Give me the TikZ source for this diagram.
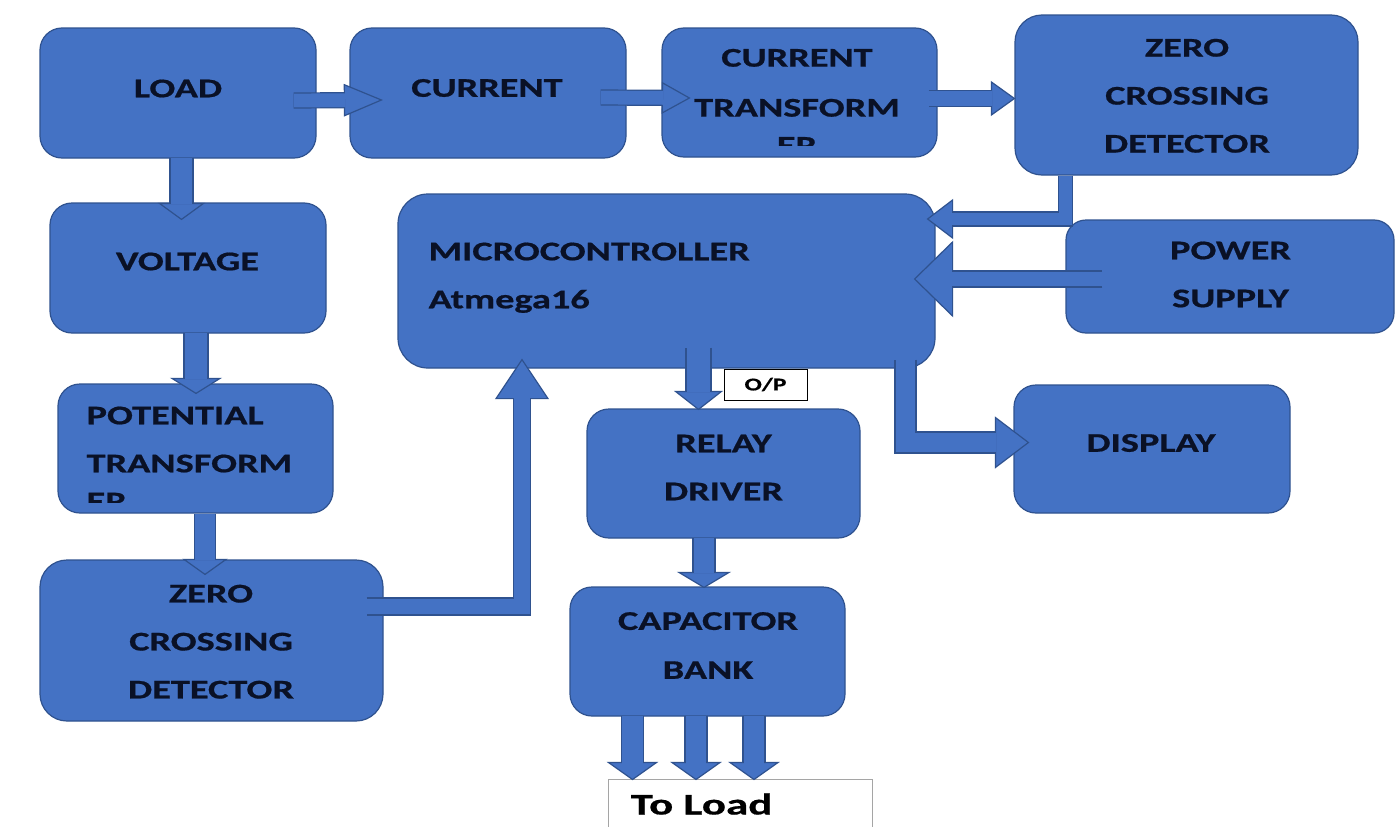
\documentclass[tikz,border=0pt]{standalone}
\usepackage{fontspec}
\usetikzlibrary{calc}
\newfontfamily\boxfont[FakeStretch=1.42, FakeBold=0.7]{Carlito}
\newfontfamily\loadfont[FakeStretch=1.5, FakeBold=0.6]{Carlito}
\definecolor{boxblue}{RGB}{68,114,196}
\definecolor{boxedge}{RGB}{47,82,143}
\definecolor{txtnavy}{RGB}{10,17,38}
\definecolor{graybox}{RGB}{165,165,165}
\tikzset{
 blk/.style={rectangle, rounded corners=22pt, fill=boxblue, draw=boxedge, line width=1.2pt, inner sep=0pt},
 lbl/.style={inner sep=0pt, align=center, text=txtnavy, font=\boxfont\bfseries\fontsize{27}{48}\selectfont},
 lbll/.style={lbl, align=left},
 arrline/.style={draw=boxedge, line join=miter, line cap=butt},
 arrbody/.style={draw=boxblue, line join=miter, line cap=butt},
 arrhead/.style={fill=boxblue, draw=boxedge, line width=1.2pt, line join=miter},
}
% straight block arrow: start, tip, shaft width, head half width, head length
\newcommand\sarr[5]{%
  \coordinate (hb) at ($#2!#5!#1$);
  \draw[arrline, line width={#3+1.2pt}] #1 -- (hb);
  \filldraw[arrhead] ($(hb)!#4!90:#2$) -- #2 -- ($(hb)!#4!-90:#2$) -- cycle;
  \draw[arrbody, line width={#3-1.2pt}, shorten <=0.6pt, shorten >=-1pt] #1 -- (hb);
}
% elbow block arrow: start, corner, tip, shaft width, head half width, head length
\newcommand\larr[6]{%
  \coordinate (hb) at ($#3!#6!#2$);
  \draw[arrline, line width={#4+1.2pt}] #1 -- #2 -- (hb);
  \filldraw[arrhead] ($(hb)!#5!90:#3$) -- #3 -- ($(hb)!#5!-90:#3$) -- cycle;
  \draw[arrbody, line width={#4-1.2pt}, shorten <=0.6pt, shorten >=-1pt] #1 -- #2 -- (hb);
}
\begin{document}
\begin{tikzpicture}[x=1pt, y=-1pt]
\useasboundingbox (0,0) rectangle (1400,827);
\fill[white] (0,0) rectangle (1400,827);

% boxes
\node[blk, minimum width=276pt, minimum height=130pt] (load) at (178,93) {};
\node[blk, minimum width=276pt, minimum height=130pt] (current) at (488,93) {};
\node[blk, minimum width=275pt, minimum height=129pt] (ct) at (799.5,92.5) {};
\node[blk, rounded corners=27pt, minimum width=343pt, minimum height=160pt] (zcdt) at (1186.5,95) {};
\node[blk, minimum width=276pt, minimum height=130pt] (voltage) at (188,268) {};
\node[blk, rounded corners=30pt, minimum width=537pt, minimum height=174pt] (micro) at (666.5,281) {};
\node[blk, rounded corners=20pt, minimum width=328pt, minimum height=113pt] (power) at (1230,276.5) {};
\node[blk, minimum width=275pt, minimum height=129pt] (pot) at (195.5,448.5) {};
\node[blk, rounded corners=27pt, minimum width=343pt, minimum height=161pt] (zcdl) at (211.5,640.5) {};
\node[blk, minimum width=273pt, minimum height=129pt] (relay) at (723.5,473.5) {};
\node[blk, minimum width=276pt, minimum height=128pt] (display) at (1152,449) {};
\node[blk, minimum width=275pt, minimum height=129pt] (cap) at (707.5,651.5) {};
\node[rectangle, draw=graybox, fill=white, line width=1pt, minimum width=264pt, minimum height=61pt, inner sep=0pt] (toload) at (740,809.5) {};

% connector end points
\coordinate (a1s) at ($(load.east)+(-23,7.5)$);   \coordinate (a1t) at ($(current.west)+(32,7)$);
\coordinate (a2s) at ($(current.east)+(-26,4.5)$); \coordinate (a2t) at ($(ct.west)+(28,5.5)$);
\coordinate (a3s) at ($(ct.east)+(-9,6)$);        \coordinate (a3t) at ($(zcdt.west)+(0,3.5)$);
\coordinate (a4s) at ($(load.south)+(3.5,-1)$);   \coordinate (a4t) at ($(voltage.north)+(-6.5,17)$);
\coordinate (a5s) at ($(voltage.south)+(8,-1)$);  \coordinate (a5t) at ($(pot.north)+(0.5,10)$);
\coordinate (a6s) at ($(pot.south)+(9.5,0)$);     \coordinate (a6t) at ($(zcdl.north)+(-6.5,15)$);
\coordinate (a7s) at ($(zcdl.east)+(-17,-34)$);   \coordinate (a7t) at ($(micro.south)+(-144.5,-9)$);
\coordinate (a7c) at (a7t |- a7s);
\coordinate (a8s) at ($(zcdt.south)+(-121,0)$);   \coordinate (a8t) at ($(micro.east)+(-8,-62)$);
\coordinate (a8c) at (a8s |- a8t);
\coordinate (a9s) at ($(power.west)+(37,2.5)$);   \coordinate (a9t) at ($(micro.east)+(-21,-2)$);
\coordinate (a10s) at ($(micro.south)+(32,-21)$); \coordinate (a10t) at ($(relay.north)+(-25,1)$);
\coordinate (a11s) at ($(micro.south)+(239,-9)$); \coordinate (a11t) at ($(display.west)+(15,-6.5)$);
\coordinate (a11c) at (a11s |- a11t);
\coordinate (a12s) at ($(relay.south)+(-19.5,-1)$); \coordinate (a12t) at ($(cap.north)+(-3.5,1)$);
\coordinate (a13s) at ($(cap.south)+(-75,-1)$);   \coordinate (a13t) at ($(toload.north)+(-107.5,1)$);
\coordinate (a14s) at ($(cap.south)+(-11.5,-1)$); \coordinate (a14t) at ($(toload.north)+(-44,1)$);
\coordinate (a15s) at ($(cap.south)+(46.5,-1)$);  \coordinate (a15t) at ($(toload.north)+(14,1)$);

% block arrows
\sarr{(a1s)}{(a1t)}{15pt}{15.5pt}{37pt}
\sarr{(a2s)}{(a2t)}{15pt}{15pt}{27pt}
\sarr{(a3s)}{(a3t)}{16pt}{16.5pt}{23pt}
\sarr{(a4s)}{(a4t)}{23pt}{22pt}{16pt}
\sarr{(a5s)}{(a5t)}{24pt}{24pt}{15pt}
\sarr{(a6s)}{(a6t)}{21pt}{21pt}{15pt}
\larr{(a7s)}{(a7c)}{(a7t)}{17pt}{26pt}{39pt}
\larr{(a8s)}{(a8c)}{(a8t)}{14pt}{19pt}{25pt}
\sarr{(a9s)}{(a9t)}{16pt}{37pt}{38pt}
\sarr{(a10s)}{(a10t)}{25pt}{23pt}{18pt}
\larr{(a11s)}{(a11c)}{(a11t)}{21pt}{25pt}{33pt}
\sarr{(a12s)}{(a12t)}{22pt}{25pt}{15pt}
\sarr{(a13s)}{(a13t)}{22pt}{24pt}{17pt}
\sarr{(a14s)}{(a14t)}{22pt}{24pt}{17pt}
\sarr{(a15s)}{(a15t)}{22pt}{24pt}{17pt}

% O/P tag
\node[rectangle, draw=black, fill=white, line width=1pt, minimum width=83pt, minimum height=31pt, inner sep=0pt,
      font=\boxfont\bfseries\fontsize{18}{20}\selectfont, text=black] (op) at (765.5,384.5) {O/P};

% labels
\node[lbl] (loadtxt) at ($(load.center)+(0,-4.5)$) {LOAD};
\node[lbl] (currenttxt) at ($(current.center)+(-1,-5)$) {CURRENT};
\begin{scope}
  \clip (ct.north west) rectangle ([yshift=12pt]ct.south east);
  \node[lbl, anchor=north] (cttxt) at ($(ct.north)+(-2.5,21.3)$) {CURRENT\\[2pt]TRANSFORM\\[-10pt]ER};
\end{scope}
\node[lbl] (zcdttxt) at ($(zcdt.center)+(0.5,0.8)$) {ZERO\\CROSSING\\DETECTOR};
\node[lbl] (voltagetxt) at ($(voltage.center)+(-0.5,-6.5)$) {VOLTAGE};
\node[lbll, anchor=north west] (microtxt) at ($(micro.north west)+(31,49)$) {MICROCONTROLLER\\Atmega16};
\node[lbl] (powertxt) at ($(power.center)+(0.5,-2)$) {POWER\\SUPPLY};
\begin{scope}
  \clip (pot.north west) rectangle ([yshift=11pt]pot.south east);
  \node[lbll, anchor=north west] (pottxt) at ($(pot.north west)+(29,23)$) {POTENTIAL\\TRANSFORM\\[-10pt]ER};
\end{scope}
\node[lbl] (zcdltxt) at ($(zcdl.center)+(-0.5,1.2)$) {ZERO\\CROSSING\\DETECTOR};
\node[lbl] (relaytxt) at ($(relay.center)+(0,-6)$) {RELAY\\DRIVER};
\node[lbl] (displaytxt) at ($(display.center)+(-1,-6)$) {DISPLAY};
\node[lbl] (captxt) at ($(cap.center)+(0.5,-6)$) {CAPACITOR\\[1pt]BANK};
\node[anchor=base west, inner sep=0pt, text=black, font=\loadfont\bfseries\fontsize{30}{34}\selectfont] (toloadtxt) at ($(toload.north west)+(23,36)$) {To Load};
\end{tikzpicture}
\end{document}
